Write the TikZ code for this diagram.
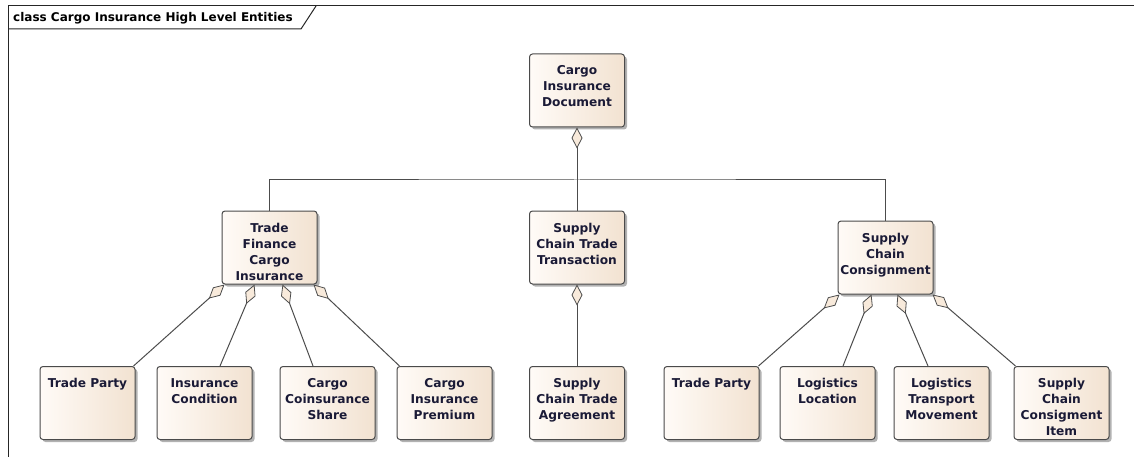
\documentclass[tikz,border=0pt]{standalone}
\usepackage{fontspec}
\setmainfont{DejaVu Sans}
\usetikzlibrary{arrows.meta,shadows}

\definecolor{boxleft}{HTML}{FFFBF7}
\definecolor{boxright}{HTML}{F2E2D1}
\definecolor{boxedge}{HTML}{4A4A4A}
\definecolor{wire}{HTML}{4C4C4C}
\definecolor{diafill}{HTML}{F8EADB}
\definecolor{ink}{HTML}{1A1A36}

\tikzset{
  classbox/.style={draw=boxedge, line width=1pt, rounded corners=3pt,
    minimum width=95pt, minimum height=73pt, inner sep=0pt,
    left color=boxleft, right color=boxright,
    drop shadow={shadow xshift=2.5pt, shadow yshift=-2.5pt, opacity=0.3, fill=black}},
  classtext/.style={inner sep=0pt, text=ink, font=\fontsize{12.2}{16}\selectfont\bfseries},
  wireline/.style={draw=wire, line width=1pt},
  agg/.style={wireline, {Diamond[length=21pt,width=11pt,fill=diafill,line width=0.8pt]}-},
  framestyle/.style={draw=black!85, line width=1pt},
}

% class box: name, x, y, label lines
\newcommand\umlclass[4]{%
  \node[classbox] (#1) at (#2,#3) {};
  \node[classtext, anchor=base] (#1-name) at ([yshift=-21.5pt]#1.north)
    {\parbox[t]{93pt}{\centering #4}};}

\begin{document}
\begin{tikzpicture}[x=1pt,y=-1pt]
\useasboundingbox (0,0) rectangle (1134,457);

% diagram frame with its name tab
\draw[framestyle] (8,457) -- (8,6) -- (1134,6);
\draw[framestyle] (8,29) -- (301,29) -- (316,6);
\node[anchor=base west, inner sep=0pt, text=black, font=\fontsize{12}{14}\selectfont\bfseries]
  (title) at (13,22) {class Cargo Insurance High Level Entities};

% classes
\umlclass{doc}{577}{90.5}{Cargo\\Insurance\\Document}
\umlclass{tfci}{269.5}{247.5}{Trade\\Finance\\Cargo\\Insurance}
\umlclass{sctt}{577}{247.5}{Supply\\Chain Trade\\Transaction}
\umlclass{scc}{885.5}{257.5}{Supply\\Chain\\Consignment}

\umlclass{tpa}{87.5}{403}{Trade Party}
\umlclass{ic}{204.5}{403}{Insurance\\Condition}
\umlclass{ccs}{327.5}{403}{Cargo\\Coinsurance\\Share}
\umlclass{cip}{444.5}{403}{Cargo\\Insurance\\Premium}
\umlclass{scta}{577}{403}{Supply\\Chain Trade\\Agreement}
\umlclass{tpb}{711.5}{403}{Trade Party}
\umlclass{ll}{827.5}{403}{Logistics\\Location}
\umlclass{ltm}{941.5}{403}{Logistics\\Transport\\Movement}
\umlclass{scci}{1061.5}{403}{Supply\\Chain\\Consigment\\Item}

% top-level aggregation with its bus
\coordinate (bus) at (577,180);
\draw[wireline] (tfci.north) |- (bus) -| (scc.north);
\draw[agg] (doc.south) -- (sctt.north);

% trade finance cargo insurance parts
\draw[agg] ([xshift=3pt]tfci.south west) -- ([xshift=-2pt]tpa.north east);
\draw[agg] ([xshift=33pt]tfci.south west) -- ([xshift=15.5pt]ic.north);
\draw[agg] ([xshift=61pt]tfci.south west) -- ([xshift=-14.5pt]ccs.north);
\draw[agg] ([xshift=-4pt]tfci.south east) -- ([xshift=3pt]cip.north west);

% transaction agreement
\draw[agg] (sctt.south) -- (scta.north);

% consignment parts
\draw[agg] ([xshift=2pt]scc.south west) -- ([xshift=-1pt]tpb.north east);
\draw[agg] ([xshift=34pt]scc.south west) -- ([xshift=15.5pt]ll.north);
\draw[agg] ([xshift=60pt]scc.south west) -- ([xshift=-13.5pt]ltm.north);
\draw[agg] ([xshift=-1pt]scc.south east) -- ([xshift=2pt]scci.north west);
\end{tikzpicture}
\end{document}
